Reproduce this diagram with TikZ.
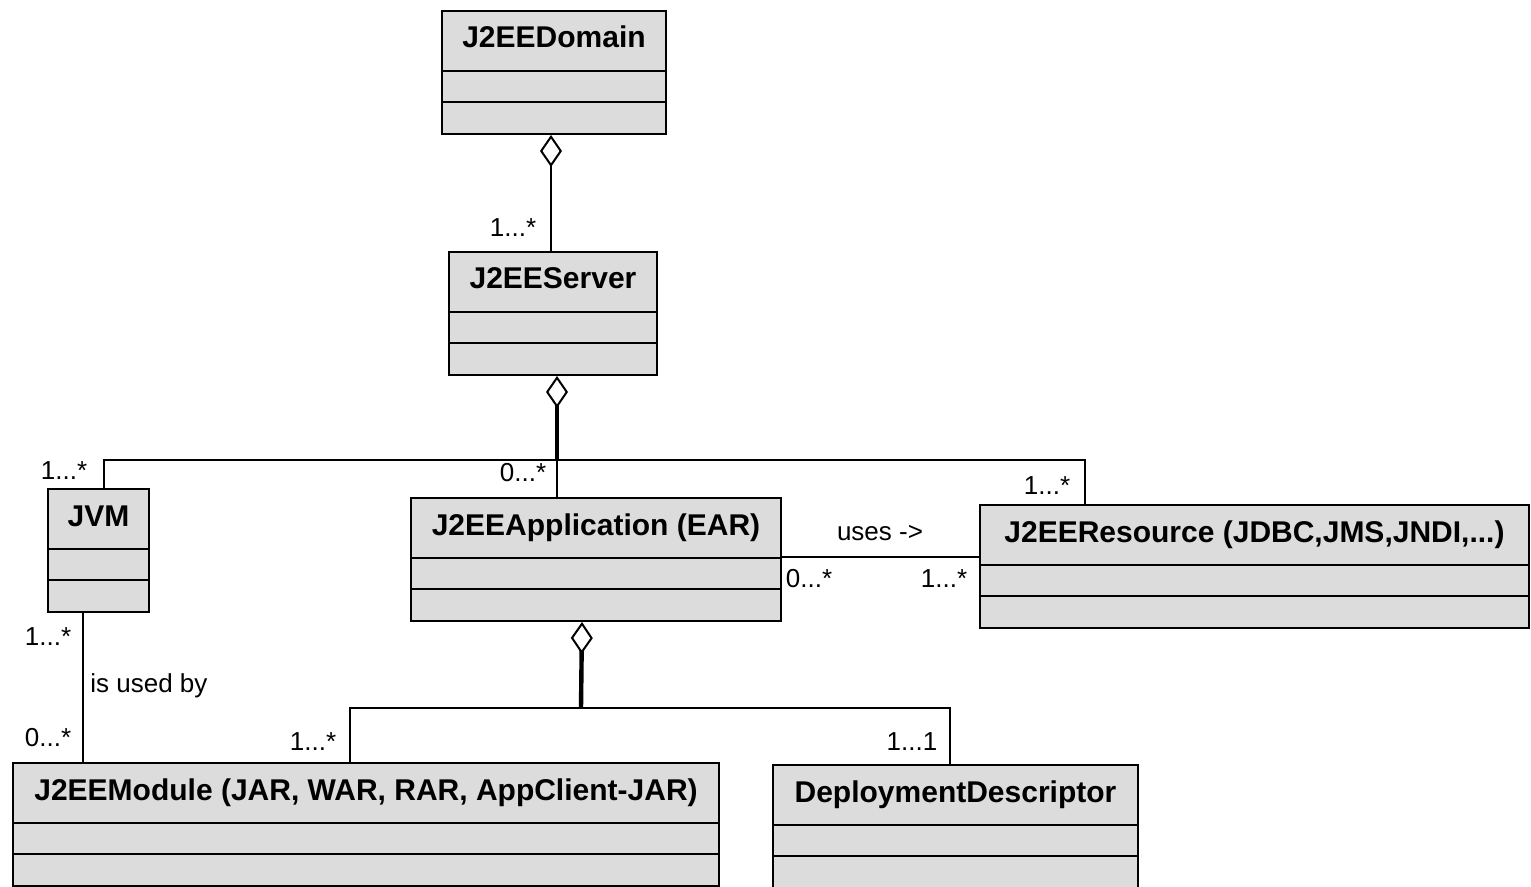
\documentclass[tikz,border=0pt]{standalone}
\usepackage{fontspec}
\setmainfont{Liberation Sans}
\usepackage{tikz}
\usetikzlibrary{arrows.meta}

\definecolor{boxgray}{HTML}{DCDCDC}

\tikzset{
  classrect/.style={draw, line width=1pt, fill=boxgray, inner sep=0pt,
    anchor=north west, minimum height=61.5pt},
  classtitle/.style={anchor=base, inner sep=0pt,
    font=\bfseries\fontsize{15}{18}\selectfont},
  mult/.style={inner sep=0pt, font=\fontsize{13}{15}\selectfont},
  assoc/.style={line width=1pt},
  aggr/.style={line width=1pt, -{Diamond[open, length=16pt, width=11pt, line width=1pt]}},
  aggrthick/.style={line width=2.2pt, -{Diamond[open, length=16pt, width=11pt, line width=1pt]}}
}

% one class box: name, left, top, width (all in px), title
\newcommand{\classbox}[5]{%
  \node[classrect, minimum width=#4*0.5pt] (#1) at (#2,#3) {};
  \node[classtitle] (#1-t) at ([yshift=-19pt]#1.north) {#5};
  \draw[line width=1pt] ([yshift=-30.5pt]#1.north west) -- ([yshift=-30.5pt]#1.north east);
  \draw[line width=1pt] ([yshift=-46pt]#1.north west) -- ([yshift=-46pt]#1.north east);
}

\begin{document}
\begin{tikzpicture}[x=0.5pt, y=-0.5pt]
		\useasboundingbox (0,0) rectangle (1531,887);

		% classes
		\classbox{domain}{441}{10}{224}{J2EEDomain}
		\classbox{server}{448}{251}{208}{J2EEServer}
		\classbox{jvm}{47}{488}{101}{JVM}
		\classbox{app}{410}{497}{370}{J2EEApplication (EAR)}
		\classbox{res}{979}{504}{549}{J2EEResource (JDBC,JMS,JNDI,...)}
		\classbox{module}{12}{762}{706}{J2EEModule (JAR, WAR, RAR, AppClient-JAR)}
		\classbox{dd}{772}{764}{365}{DeploymentDescriptor}

		% junction points
		\coordinate (hub) at (557,460);
		\coordinate (split) at (581,708);

		% domain - server
		\draw[aggr] (server.north -| 551,0) -- (domain.south -| 551,0);
		\node[mult] (m1) at (513,228) {1...*};

		% server - jvm / app / resource
		\draw[aggrthick] (hub) -- (server.south -| hub);
		\draw[assoc] (hub) -| ([xshift=2.75pt]jvm.north);
		\draw[assoc] (hub) -- (hub |- app.north);
		\draw[assoc] (hub) -| ([xshift=53pt]res.north west);
		\node[mult] (m2) at (64,471) {1...*};
		\node[mult] (m3) at (523,473) {0...*};
		\node[mult] (m4) at (1047,486) {1...*};

		% app uses resource
		\draw[assoc] ([yshift=1.5pt]app.east) -- ([yshift=1.5pt]app.east -| res.west);
		\node[mult] (uses) at (880,533) {uses ->};
		\node[mult] (m5) at (809,579) {0...*};
		\node[mult] (m6) at (944,579) {1...*};

		% jvm - module
		\draw[assoc] ([xshift=18pt]jvm.south west) -- ([xshift=18pt]jvm.south west |- module.north);
		\node[mult] (m7) at (48,637) {1...*};
		\node[mult, anchor=west] (usedby) at (90,686) {is used by};
		\node[mult] (m8) at (48,738) {0...*};

		% app - module / descriptor
		\draw[aggrthick] (split) -- ([xshift=-7pt]app.south);
		\draw[assoc] (split) -| ([xshift=169pt]module.north west);
		\draw[assoc] (split) -| ([xshift=89pt]dd.north west);
		\node[mult] (m9) at (313,742) {1...*};
		\node[mult] (m10) at (912,742) {1...1};

	\end{tikzpicture}
\end{document}
